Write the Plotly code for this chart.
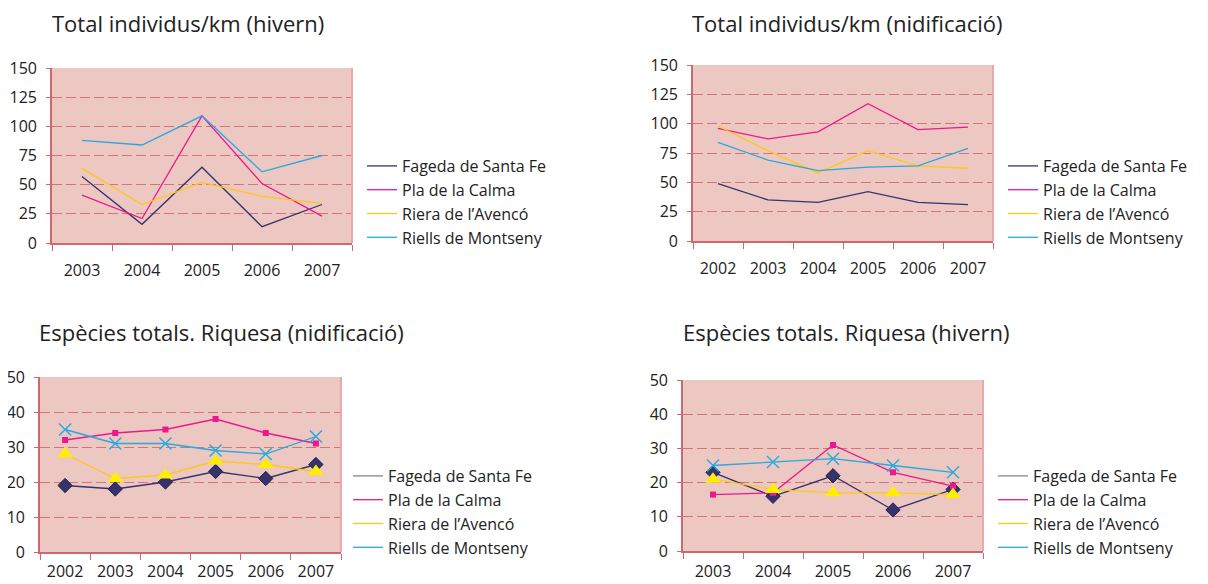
import plotly.graph_objects as go

# page body has an 8px margin: figure pixel = screen pixel - OFF
OFF = 8
W, H = 1200, 576

# ---------------- data ----------------
series_names = ["Fageda de Santa Fe", "Pla de la Calma", "Riera de l\u2019Avencó", "Riells de Montseny"]

years_hivern = ["2003", "2004", "2005", "2006", "2007"]
years_nidif = ["2002", "2003", "2004", "2005", "2006", "2007"]

# Total individus/km (hivern)
ind_hiv_fageda = [57, 16, 65, 14, 33]
ind_hiv_pla = [41, 21, 109, 51, 23]
ind_hiv_riera = [64, 33, 52, 40, 34]
ind_hiv_riells = [88, 84, 109, 61, 75]

# Total individus/km (nidificació)
ind_nid_fageda = [49, 35, 33, 42, 33, 31]
ind_nid_pla = [96, 87, 93, 117, 95, 97]
ind_nid_riera = [98, 77, 58, 77, 64, 62]
ind_nid_riells = [84, 69, 60, 63, 64, 79]

# Espècies totals. Riquesa (nidificació)
riq_nid_fageda = [19, 18, 20, 23, 21, 25]
riq_nid_pla = [32, 34, 35, 38, 34, 31]
riq_nid_riera = [28, 21, 22, 26, 25, 23]
riq_nid_riells = [35, 31, 31, 29, 28, 33]

# Espècies totals. Riquesa (hivern)
riq_hiv_fageda = [23, 16, 22, 12, 18]
riq_hiv_pla = [16.5, 17, 31, 23, 19]
riq_hiv_riera = [21, 18, 17, 17, 16.5]
riq_hiv_riells = [25, 26, 27, 25, 23]

titles = [
    "Total individus/km (hivern)",
    "Total individus/km (nidificació)",
    "Espècies totals. Riquesa (nidificació)",
    "Espècies totals. Riquesa (hivern)",
]

# ---------------- styles ----------------
NAVY = "#34336b"
MAGENTA = "#ea1a8a"
YELLOW = "#fcc917"
CYAN = "#25a9e0"
line_colors = [NAVY, MAGENTA, YELLOW, CYAN]
legend_colors_bottom = ["#8383a3", MAGENTA, YELLOW, CYAN]

BG = "#edc7c1"
AXIS = "#cd6770"
GRID = "#d5737b"
TXT = "#222222"
FONT = "Open Sans"

fig = go.Figure()

# panel screen-pixel boxes: (left, top, right, bottom)
boxes = {
    1: (52, 68, 352, 243),
    2: (693, 65, 993, 241),
    3: (40, 377, 341, 552),
    4: (683, 380, 983, 551),
}
label_standoff = {1: 12, 2: 12, 3: 4, 4: 5}

def px_x(x):
    return (x - OFF) / W

def px_y(y):
    return 1 - (y - OFF) / H

def dom(box):
    l, t, r, b = box
    return [px_x(l), px_x(r)], [px_y(b), px_y(t)]

panels = [
    (1, years_hivern, [ind_hiv_fageda, ind_hiv_pla, ind_hiv_riera, ind_hiv_riells], False, [0, 150, 25]),
    (2, years_nidif, [ind_nid_fageda, ind_nid_pla, ind_nid_riera, ind_nid_riells], False, [0, 150, 25]),
    (3, years_nidif, [riq_nid_fageda, riq_nid_pla, riq_nid_riera, riq_nid_riells], True, [0, 50, 10]),
    (4, years_hivern, [riq_hiv_fageda, riq_hiv_pla, riq_hiv_riera, riq_hiv_riells], True, [0, 50, 10]),
]

markers = [
    dict(symbol="diamond", size=11, color=NAVY, line=dict(color="#22224a", width=1)),
    dict(symbol="square", size=6, color=MAGENTA, line=dict(width=0)),
    dict(symbol="triangle-up", size=14, color="#ffee00", line=dict(width=0)),
    dict(symbol="x-thin-open", size=12, color=CYAN, line=dict(color=CYAN, width=1.4)),
]

layout_axes = {}
for idx, years, series, with_markers, (ymin, ymax, ystep) in panels:
    xa = "x" if idx == 1 else f"x{idx}"
    ya = "y" if idx == 1 else f"y{idx}"
    lg = "legend" if idx == 1 else f"legend{idx}"
    for k, vals in enumerate(series):
        if with_markers:
            fig.add_trace(go.Scatter(
                x=years, y=vals, mode="lines+markers", name=series_names[k],
                line=dict(color=line_colors[k], width=1.3),
                marker=markers[k], xaxis=xa, yaxis=ya, showlegend=False,
            ))
        else:
            fig.add_trace(go.Scatter(
                x=years, y=vals, mode="lines", name=series_names[k],
                line=dict(color=line_colors[k], width=1.3),
                xaxis=xa, yaxis=ya, legend=lg,
            ))
    if with_markers:
        for k in range(4):
            fig.add_trace(go.Scatter(
                x=[None], y=[None], mode="lines", name=series_names[k],
                line=dict(color=legend_colors_bottom[k], width=1.3),
                xaxis=xa, yaxis=ya, legend=lg,
            ))

    xd, yd = dom(boxes[idx])
    xkey = "xaxis" if idx == 1 else f"xaxis{idx}"
    ykey = "yaxis" if idx == 1 else f"yaxis{idx}"
    layout_axes[xkey] = dict(
        domain=xd, anchor=ya, type="category", categoryorder="array", categoryarray=years,
        range=[-0.5, len(years) - 0.5], tickson="boundaries", ticks="outside", ticklen=6,
        tickcolor=AXIS, tickwidth=1.3, showline=True, linecolor=AXIS, linewidth=1.6,
        showgrid=False, zeroline=False, tickfont=dict(family=FONT, size=16, color=TXT),
        ticklabelstandoff=label_standoff[idx], fixedrange=True, automargin=False,
    )
    layout_axes[ykey] = dict(
        domain=yd, anchor=xa, range=[ymin, ymax],
        tickvals=list(range(ymin, ymax + 1, ystep)), ticks="outside", ticklen=4,
        tickcolor=AXIS, tickwidth=1.3, showline=True, linecolor=AXIS, linewidth=1.6,
        showgrid=True, gridcolor=GRID, griddash="10px,4px", gridwidth=1.2,
        zeroline=False, tickfont=dict(family=FONT, size=16, color=TXT),
        ticklabelstandoff=6, fixedrange=True, automargin=False,
    )

fig.update_layout(**layout_axes)

# plot background boxes and right border per panel
shapes = []
for idx in boxes:
    xa = "x" if idx == 1 else f"x{idx}"
    ya = "y" if idx == 1 else f"y{idx}"
    shapes.append(dict(type="rect", xref=f"{xa} domain", yref=f"{ya} domain",
                       x0=0, x1=1, y0=0, y1=1, fillcolor=BG, line=dict(width=0), layer="below"))
    shapes.append(dict(type="line", xref=f"{xa} domain", yref=f"{ya} domain",
                       x0=1, x1=1, y0=0, y1=1, line=dict(color="#e9aaae", width=2), layer="above"))

# titles
title_pos = [(50, 23), (690, 23), (37, 332), (681, 332)]
annotations = []
for (tx, ty), t in zip(title_pos, titles):
    annotations.append(dict(text=t, xref="paper", yref="paper", x=px_x(tx), y=px_y(ty),
                            xanchor="left", yanchor="middle", showarrow=False,
                            font=dict(family=FONT, size=22, color=TXT)))

legend_pos = {1: (362, 149), 2: (1003, 149), 3: (348, 459), 4: (993, 459)}
leg_layout = {}
for idx, (lx, ly) in legend_pos.items():
    key = "legend" if idx == 1 else f"legend{idx}"
    leg_layout[key] = dict(x=px_x(lx), y=px_y(ly), xanchor="left", yanchor="top",
                           bgcolor="rgba(0,0,0,0)", font=dict(family=FONT, size=16, color=TXT),
                           tracegroupgap=0, itemclick=False, itemdoubleclick=False)

fig.update_layout(
    width=W, height=H, margin=dict(l=0, r=0, t=0, b=0, autoexpand=False),
    paper_bgcolor="white", plot_bgcolor="rgba(0,0,0,0)",
    shapes=shapes, annotations=annotations, showlegend=True,
    font=dict(family=FONT, color=TXT),
    **leg_layout,
)

fig.write_html("out.html")
